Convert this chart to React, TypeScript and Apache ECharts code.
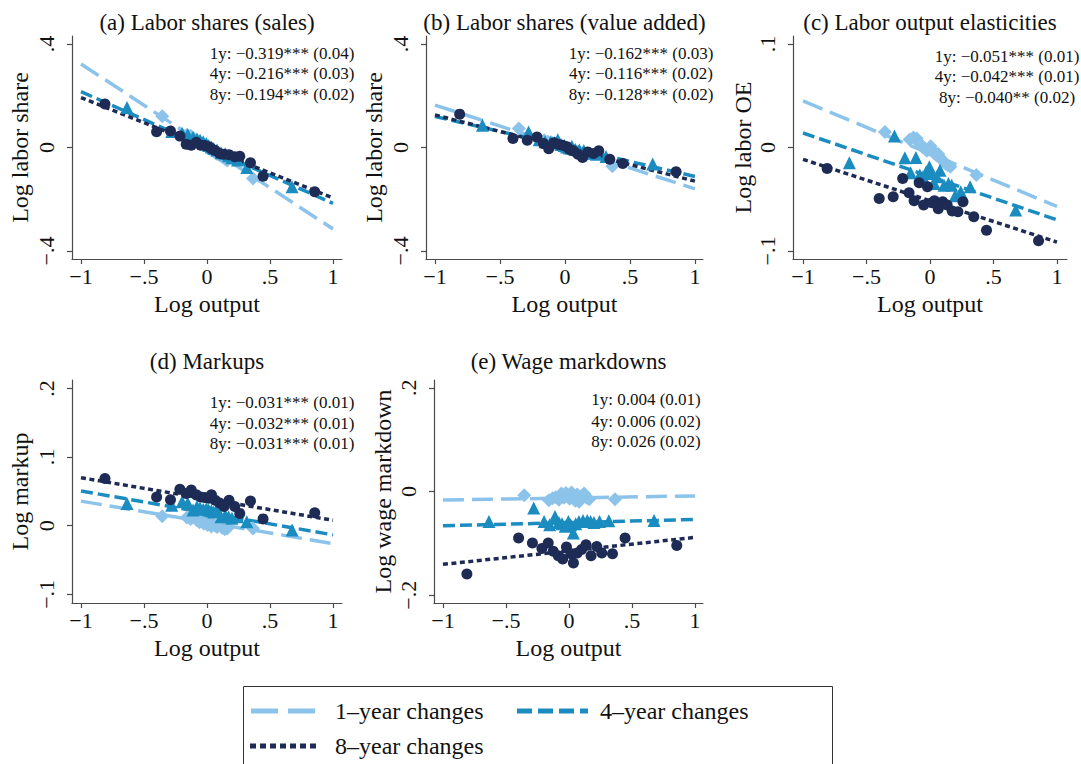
import React, { useEffect, useRef } from "react";
import * as echarts from "echarts";

// Binned log-output changes (x) for each horizon
const X_1Y = [-0.355, -0.16, -0.13, -0.105, -0.08, -0.06, -0.04, -0.025, -0.01, 0.005, 0.02, 0.035, 0.05, 0.065, 0.08, 0.1, 0.12, 0.14, 0.16, 0.365];
const X_4Y = [-0.635, -0.28, -0.198, -0.153, -0.111, -0.08, -0.055, -0.03, -0.005, 0.013, 0.034, 0.053, 0.079, 0.111, 0.145, 0.171, 0.198, 0.242, 0.316, 0.675];
const X_8Y = [-0.81, -0.4, -0.29, -0.215, -0.165, -0.125, -0.085, -0.05, -0.02, 0.015, 0.035, 0.065, 0.1, 0.135, 0.175, 0.22, 0.26, 0.345, 0.445, 0.855];

// (a) Labor shares (sales)
const A_1Y = [0.121, 0.048, 0.045, 0.035, 0.028, 0.022, 0.016, 0.011, 0.006, 0.001, -0.004, -0.009, -0.014, -0.018, -0.025, -0.03, -0.036, -0.043, -0.05, -0.12];
const A_4Y = [0.155, 0.062, 0.055, 0.05, 0.04, 0.033, 0.028, 0.022, 0.015, 0.008, 0.002, -0.004, -0.01, -0.02, -0.024, -0.032, -0.04, -0.048, -0.077, -0.152];
const A_8Y = [0.168, 0.061, 0.064, 0.044, 0.013, 0.009, 0.02, 0.009, 0.008, 0.003, -0.005, -0.012, -0.023, -0.026, -0.028, -0.036, -0.034, -0.059, -0.111, -0.171];

// (b) Labor shares (value added)
const B_1Y = [0.073, 0.028, 0.022, 0.02, 0.015, 0.012, 0.008, 0.006, 0.003, 0.0, -0.002, -0.008, -0.006, -0.012, -0.014, -0.015, -0.02, -0.022, -0.03, -0.072];
const B_4Y = [0.086, 0.06, 0.03, 0.022, 0.02, 0.018, 0.03, 0.012, 0.008, 0.002, -0.002, 0.005, -0.008, -0.01, -0.012, -0.02, -0.022, -0.026, -0.035, -0.064];
const B_8Y = [0.129, 0.035, 0.028, 0.041, 0.015, -0.005, 0.018, 0.012, 0.009, 0.003, -0.008, -0.013, -0.026, -0.039, -0.017, -0.023, -0.013, -0.045, -0.062, -0.094];

// (c) Labor output elasticities
const C_1Y = [0.0151, 0.0077, 0.0097, 0.0087, 0.0039, 0.0006, -0.001, -0.0032, -0.002, 0.0013, -0.0026, -0.0058, -0.0074, -0.0064, -0.0097, -0.0129, -0.0155, -0.0171, -0.0187, -0.0267];
const C_4Y = [-0.0148, 0.011, -0.01, -0.0245, -0.0097, -0.0267, -0.0283, -0.0235, -0.0187, -0.0251, -0.0348, -0.0283, -0.0219, -0.0364, -0.0348, -0.0364, -0.0467, -0.0428, -0.038, -0.0605];
const C_8Y = [-0.0203, -0.0493, -0.0477, -0.03, -0.0438, -0.0515, -0.0341, -0.0557, -0.038, -0.0535, -0.0515, -0.0593, -0.0525, -0.0557, -0.0615, -0.0622, -0.0525, -0.067, -0.0799, -0.0902];

// (d) Markups
const D_1Y = [0.014, 0.012, 0.01, 0.013, 0.008, 0.005, 0.009, 0.003, 0.006, 0.001, 0.004, -0.001, 0.003, 0.0, -0.002, 0.002, -0.003, -0.005, -0.004, -0.004];
const D_4Y = [0.0325, 0.03, 0.035, 0.033, 0.023, 0.028, 0.026, 0.024, 0.025, 0.023, 0.022, 0.02, 0.024, 0.013, 0.015, 0.013, 0.011, 0.013, 0.0058, -0.0063];
const D_8Y = [0.069, 0.042, 0.038, 0.053, 0.047, 0.052, 0.045, 0.042, 0.041, 0.04, 0.045, 0.037, 0.033, 0.028, 0.037, 0.028, 0.018, 0.036, 0.01, 0.019];

// (e) Wage markdowns
const E_1Y = [-0.007, -0.017, -0.013, -0.011, -0.016, -0.004, -0.012, -0.003, -0.008, -0.014, -0.002, -0.01, -0.018, -0.006, -0.02, -0.009, -0.004, -0.012, -0.015, -0.015];
const E_4Y = [-0.0577, -0.032, -0.0577, -0.064, -0.048, -0.0596, -0.062, -0.067, -0.0577, -0.064, -0.08, -0.062, -0.0577, -0.0558, -0.0558, -0.0577, -0.0596, -0.0577, -0.0564, -0.0558];
const E_8Y = [-0.159, -0.0897, -0.0994, -0.11, -0.0994, -0.115, -0.124, -0.13, -0.107, -0.12, -0.138, -0.1186, -0.112, -0.1026, -0.124, -0.106, -0.1186, -0.12, -0.0897, -0.104];

// Linear fits: slope (as reported) and intercept, per horizon 1y / 4y / 8y
const SLOPES_A = [-0.319, -0.216, -0.194];
const SLOPES_B = [-0.162, -0.116, -0.128];
const SLOPES_C = [-0.051, -0.042, -0.04];
const SLOPES_D = [-0.031, -0.032, -0.031];
const SLOPES_E = [0.004, 0.006, 0.026];
const INTERCEPTS_A = [0.004, 0.0, -0.001];
const INTERCEPTS_B = [0.002, 0.004, -0.002];
const INTERCEPTS_C = [-0.006, -0.028, -0.0515];
const INTERCEPTS_D = [0.0049, 0.0187, 0.039];
const INTERCEPTS_E = [-0.0125, -0.06, -0.1145];

const NOTES_A = ["1y: \u22120.319*** (0.04)", "4y: \u22120.216*** (0.03)", "8y: \u22120.194*** (0.02)"];
const NOTES_B = ["1y: \u22120.162*** (0.03)", "4y: \u22120.116*** (0.02)", "8y: \u22120.128*** (0.02)"];
const NOTES_C = ["1y: \u22120.051*** (0.01)", "4y: \u22120.042*** (0.01)", "8y: \u22120.040** (0.02)"];
const NOTES_D = ["1y: \u22120.031*** (0.01)", "4y: \u22120.032*** (0.01)", "8y: \u22120.031*** (0.01)"];
const NOTES_E = ["1y: 0.004 (0.01)", "4y: 0.006 (0.02)", "8y: 0.026 (0.02)"];

const TITLES = ["(a) Labor shares (sales)", "(b) Labor shares (value added)", "(c) Labor output elasticities", "(d) Markups", "(e) Wage markdowns"];
const Y_NAMES = ["Log labor share", "Log labor share", "Log labor OE", "Log markup", "Log wage markdown"];
const X_NAME = "Log output";
const X_TICKS = [-1, -0.5, 0, 0.5, 1];
const Y_TICKS_A = [-0.4, 0, 0.4];
const Y_TICKS_B = [-0.4, 0, 0.4];
const Y_TICKS_C = [-0.1, 0, 0.1];
const Y_TICKS_D = [-0.1, 0, 0.1, 0.2];
const Y_TICKS_E = [-0.2, 0, 0.2];

const LEGEND_LABELS = ["1\u2013year changes", "4\u2013year changes", "8\u2013year changes"];

const FONT = '"Liberation Serif", "Times New Roman", serif';
const COLORS = ["#8cc3ea", "#1a8cc0", "#1d2b55"];
const SYMBOLS = ["diamond", "triangle", "circle"];
const SYMBOL_SIZES = [14, 13, 11];
const DASHES = [[21, 8], [12, 5], [5, 3.5]];
const AXIS_COLOR = "#4a4a4a";
const TEXT_COLOR = "#111";

const fmtTick = (v: number) => {
  if (Math.abs(v) < 1e-9) return "0";
  const s = String(Math.abs(v)).replace(/^0\./, ".");
  return (v < 0 ? "\u2212" : "") + s;
};

export default function App() {
  const ref = useRef<HTMLDivElement>(null);

  useEffect(() => {
    document.body.style.margin = "0";
    document.body.style.overflow = "hidden";
    if (!ref.current) return;
    const chart = echarts.init(ref.current, undefined, { renderer: "svg" });

    const xs = [X_1Y, X_4Y, X_8Y];
    const panels = [
      { ys: [A_1Y, A_4Y, A_8Y], slopes: SLOPES_A, icpt: INTERCEPTS_A, notes: NOTES_A, yTicks: Y_TICKS_A,
        grid: { left: 72, top: 36, width: 270, height: 223 }, xr: [-1.0714, 1.0714], yr: [-0.431, 0.431],
        noteX: 282, noteY: [53, 73.5, 94], titleY: 22, nameGap: 40 },
      { ys: [B_1Y, B_4Y, B_8Y], slopes: SLOPES_B, icpt: INTERCEPTS_B, notes: NOTES_B, yTicks: Y_TICKS_B,
        grid: { left: 426, top: 36, width: 277, height: 223 }, xr: [-1.069, 1.062], yr: [-0.431, 0.431],
        noteX: 641, noteY: [53, 73.5, 94], titleY: 22, nameGap: 40 },
      { ys: [C_1Y, C_4Y, C_8Y], slopes: SLOPES_C, icpt: INTERCEPTS_C, notes: NOTES_C, yTicks: Y_TICKS_C,
        grid: { left: 793, top: 36, width: 274, height: 223 }, xr: [-1.079, 1.079], yr: [-0.1078, 0.1078],
        noteX: 1007, noteY: [56, 76.5, 97], titleY: 22, nameGap: 37 },
      { ys: [D_1Y, D_4Y, D_8Y], slopes: SLOPES_D, icpt: INTERCEPTS_D, notes: NOTES_D, yTicks: Y_TICKS_D,
        grid: { left: 72, top: 380, width: 270, height: 223 }, xr: [-1.0714, 1.0714], yr: [-0.1126, 0.2124],
        noteX: 282, noteY: [402, 423, 443], titleY: 361, nameGap: 40 },
      { ys: [E_1Y, E_4Y, E_8Y], slopes: SLOPES_E, icpt: INTERCEPTS_E, notes: NOTES_E, yTicks: Y_TICKS_E,
        grid: { left: 434, top: 380, width: 269, height: 223 }, xr: [-1.071, 1.063], yr: [-0.215, 0.215],
        noteX: 646, noteY: [399, 421, 441], titleY: 361, nameGap: 39 },
    ];

    const grids: any[] = [];
    const xAxes: any[] = [];
    const yAxes: any[] = [];
    const series: any[] = [];
    const graphics: any[] = [];

    const axisLine = { show: true, onZero: false, lineStyle: { color: AXIS_COLOR, width: 1.2 } };

    panels.forEach((p, i) => {
      grids.push({ ...p.grid, containLabel: false, outerBoundsMode: "none" });
      xAxes.push({
        gridIndex: i, type: "value", min: p.xr[0], max: p.xr[1],
        axisLine,
        axisTick: { show: true, length: 5, customValues: X_TICKS, lineStyle: { color: AXIS_COLOR, width: 1.2 } },
        axisLabel: { customValues: X_TICKS, formatter: fmtTick, fontFamily: FONT, fontSize: 22, color: TEXT_COLOR, margin: 6 },
        splitLine: { show: false },
        name: X_NAME, nameLocation: "middle", nameGap: 33,
        nameTextStyle: { fontFamily: FONT, fontSize: 24, color: TEXT_COLOR },
      });
      yAxes.push({
        gridIndex: i, type: "value", min: p.yr[0], max: p.yr[1],
        axisLine,
        axisTick: { show: true, length: 5, customValues: p.yTicks, lineStyle: { color: AXIS_COLOR, width: 1.2 } },
        axisLabel: { customValues: p.yTicks, formatter: fmtTick, rotate: 90, fontFamily: FONT, fontSize: 22, color: TEXT_COLOR, margin: 15 },
        splitLine: { show: false },
        name: Y_NAMES[i], nameLocation: "middle", nameGap: p.nameGap,
        nameTextStyle: { fontFamily: FONT, fontSize: 24, color: TEXT_COLOR },
      });

      // fitted lines underneath the binned points
      for (let h = 0; h < 3; h++) {
        const a = p.icpt[h];
        const b = p.slopes[h];
        series.push({
          type: "line", xAxisIndex: i, yAxisIndex: i, silent: true, symbol: "none", z: 2,
          data: [[-1, a - b], [1, a + b]],
          lineStyle: { color: COLORS[h], width: 3.5, type: DASHES[h] },
        });
      }
      for (let h = 0; h < 3; h++) {
        series.push({
          type: "scatter", xAxisIndex: i, yAxisIndex: i, silent: true, z: 3,
          symbol: SYMBOLS[h], symbolSize: SYMBOL_SIZES[h],
          itemStyle: { color: COLORS[h], opacity: 1 },
          data: xs[h].map((x, k) => [x, p.ys[h][k]]),
        });
      }

      graphics.push({
        type: "text", silent: true,
        style: {
          text: TITLES[i], x: p.grid.left + p.grid.width / 2, y: p.titleY,
          textAlign: "center", textVerticalAlign: "middle",
          font: `23px ${FONT}`, fill: TEXT_COLOR,
        },
      });
      p.notes.forEach((t, k) => {
        graphics.push({
          type: "text", silent: true,
          style: {
            text: t, x: p.noteX, y: p.noteY[k],
            textAlign: "center", textVerticalAlign: "middle",
            font: `17px ${FONT}`, fill: TEXT_COLOR,
          },
        });
      });
    });

    // legend box
    graphics.push({
      type: "rect", silent: true,
      shape: { x: 243.5, y: 686.5, width: 589, height: 100 },
      style: { fill: "none", stroke: "#333", lineWidth: 1 },
    });
    const legendItems = [
      { x1: 251, x2: 316, y: 711, tx: 335 },
      { x1: 517, x2: 588, y: 711, tx: 600 },
      { x1: 250, x2: 320, y: 746, tx: 335 },
    ];
    const legendDashes = [[27, 10], [15, 6], [6, 4]];
    legendItems.forEach((it, h) => {
      graphics.push({
        type: "line", silent: true,
        shape: { x1: it.x1, y1: it.y, x2: it.x2, y2: it.y },
        style: { stroke: COLORS[h], lineWidth: 5, lineDash: legendDashes[h] },
      });
      graphics.push({
        type: "text", silent: true,
        style: {
          text: LEGEND_LABELS[h], x: it.tx, y: it.y,
          textAlign: "left", textVerticalAlign: "middle",
          font: `24px ${FONT}`, fill: TEXT_COLOR,
        },
      });
    });

    chart.setOption({
      animation: false,
      backgroundColor: "#ffffff",
      grid: grids,
      xAxis: xAxes,
      yAxis: yAxes,
      series,
      graphic: { elements: graphics },
    });

    return () => chart.dispose();
  }, []);

  return <div ref={ref} style={{ width: 1081, height: 764 }} />;
}
